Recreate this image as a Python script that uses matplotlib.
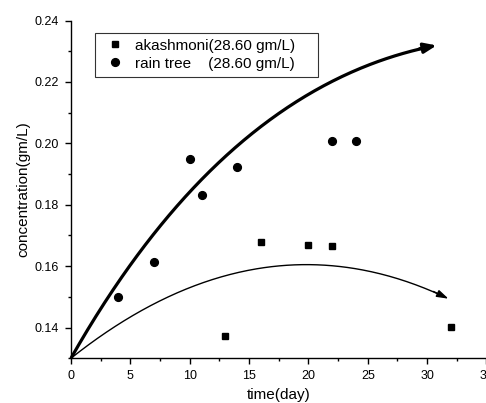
import matplotlib
matplotlib.use("Agg")
import numpy as np
import matplotlib.pyplot as plt
from matplotlib.bezier import BezierSegment
from matplotlib.ticker import MultipleLocator, FormatStrFormatter

plt.rcParams['font.family'] = ['Liberation Sans', 'DejaVu Sans']

# measured concentrations
akash_days = [13, 16, 20, 22, 32]
akash_conc = [0.1374, 0.1678, 0.1670, 0.1667, 0.1403]
rain_days = [4, 7, 10, 11, 14, 22, 24]
rain_conc = [0.1499, 0.1612, 0.1950, 0.1832, 0.1923, 0.2009, 0.2009]

# trend arrows (quadratic Bezier: start, control, end)
rain_trend = [(0.0, 0.130), (13.0, 0.2187), (30.8, 0.2319)]
akash_trend = [(0.0, 0.130), (15.9, 0.1789), (31.8, 0.1494)]

fig = plt.figure(figsize=(4.86, 4.03), dpi=100)
ax = fig.add_axes([0.146, 0.111, 0.855, 0.838])

ax.plot(akash_days, akash_conc, linestyle='none', marker='s', color='black',
        markersize=5, label='akashmoni(28.60 gm/L)')
ax.plot(rain_days, rain_conc, linestyle='none', marker='o', color='black',
        markersize=5.6, label='rain tree    (28.60 gm/L)')

t = np.linspace(0.0, 1.0, 300)
for pts, lw, hl, hw in ((rain_trend, 2.3, 0.75, 0.3), (akash_trend, 1.0, 0.7, 0.22)):
    seg = BezierSegment(np.array(pts))
    xy = seg(t)
    ax.plot(xy[:-8, 0], xy[:-8, 1], color='black', linewidth=lw,
            solid_capstyle='butt', clip_on=False)
    # arrowhead along the end tangent (control point -> end point)
    (cx, cy), (ex, ey) = pts[1], pts[2]
    frac = 0.08
    sx, sy = ex - (ex - cx) * frac, ey - (ey - cy) * frac
    ax.annotate('', xy=(ex, ey), xytext=(sx, sy),
                arrowprops=dict(arrowstyle=f'-|>,head_length={hl},head_width={hw}',
                                color='black', linewidth=lw,
                                shrinkA=0, shrinkB=0))

ax.set_xlim(0, 35)
ax.set_ylim(0.13, 0.24)
ax.xaxis.set_major_locator(MultipleLocator(5))
ax.xaxis.set_minor_locator(MultipleLocator(2.5))
ax.yaxis.set_major_locator(MultipleLocator(0.02))
ax.yaxis.set_minor_locator(MultipleLocator(0.01))
ax.yaxis.set_major_formatter(FormatStrFormatter('%.2f'))

for side in ('top', 'right'):
    ax.spines[side].set_visible(False)
for side in ('left', 'bottom'):
    ax.spines[side].set_linewidth(1.0)

ax.tick_params(which='major', direction='out', length=4.5, width=1, labelsize=9, pad=4)
ax.tick_params(which='minor', direction='out', length=2.5, width=1)

ax.set_xlabel('time(day)', fontsize=11, labelpad=4)
ax.set_ylabel('concentration(gm/L)', fontsize=11, labelpad=3)

leg = ax.legend(loc='upper left', bbox_to_anchor=(0.0578, 0.9645, 0.537, 0.0),
                mode='expand', fontsize=11, frameon=True, fancybox=False,
                borderpad=0.4, handletextpad=0.45, labelspacing=0.26,
                handlelength=1.8, borderaxespad=0)
leg.get_frame().set_edgecolor('black')
leg.get_frame().set_linewidth(0.8)

fig.savefig('out.png', dpi=100)
